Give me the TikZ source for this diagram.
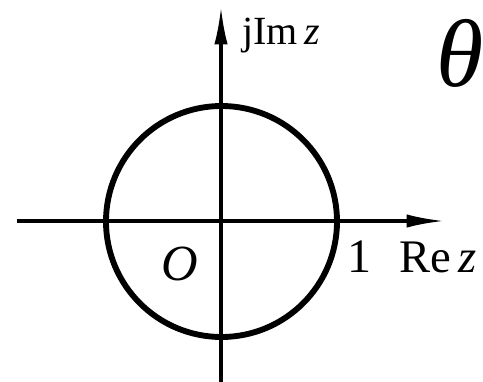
\documentclass[tikz,border=0pt]{standalone}
\usepackage{amsmath}
\usepackage{fontspec}
\setmainfont{Liberation Serif}
\usetikzlibrary{arrows.meta}

\tikzset{
  axisline/.style={line width=2.4pt,-{Latex[length=28pt,width=10pt]}},
  unitcircle/.style={line width=4.4pt},
  lbl/.style={inner sep=0pt,anchor=base west}
}

\begin{document}
\begin{tikzpicture}[x=0.75pt,y=0.75pt,yscale=-1,xscale=1]
\useasboundingbox (0,0) rectangle (483,382);

%Coordinates: axis ends
\coordinate (xstart) at (17,221);
\coordinate (xend) at (444,221);
\coordinate (ystart) at (221,382);
\coordinate (yend) at (221,7);
\coordinate (origin) at (221.5,221.5);

%Shape: Axes
\draw [axisline] (xstart) -- (xend);
\draw [axisline] (ystart) -- (yend);

%Shape: Circle
\draw [unitcircle] (origin) circle (115.5);

%Text labels
\node [lbl,font=\fontsize{30}{36}\selectfont] (imlbl) at (242,45) {jIm\,\textit{z}};
\node [lbl,font=\fontsize{35}{42}\selectfont] (relbl) at (399,272) {Re\,\textit{z}};
\node [lbl,font=\fontsize{36}{42}\selectfont] (onelbl) at (347,272) {1};
\node [lbl,font=\fontsize{38}{44}\selectfont] (olbl) at (161,280) {\textit{O}};
\node [lbl,font=\fontsize{72}{84}\selectfont] (thetalbl) at (436,86) {\textit{θ}};

\end{tikzpicture}
\end{document}
